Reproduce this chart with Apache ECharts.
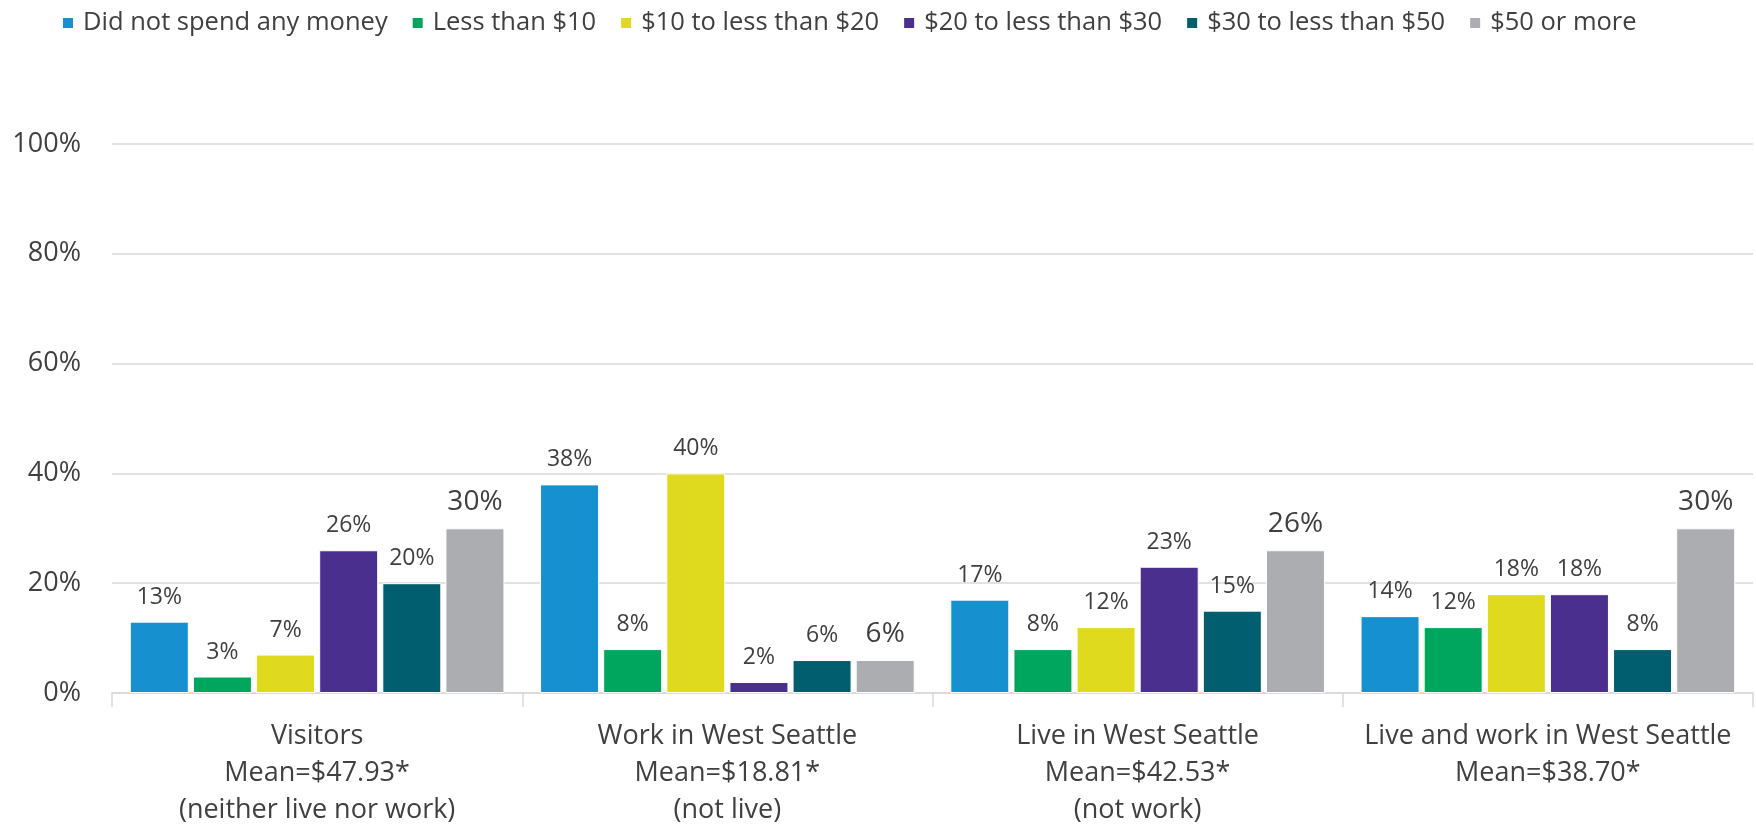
<!DOCTYPE html>
<html>
<head>
<meta charset="utf-8">
<script src="https://cdn.jsdelivr.net/npm/echarts@6/dist/echarts.min.js"></script>
<style>
  html, body { margin: 0; padding: 0; background: #fff; }
  #chart { width: 1756px; height: 829px; }
</style>
</head>
<body>
<div id="chart"></div>
<script>
const categories = [
  "Visitors\nMean=$47.93*\n(neither live nor work)",
  "Work in West Seattle\nMean=$18.81*\n(not live)",
  "Live in West Seattle\nMean=$42.53*\n(not work)",
  "Live and work in West Seattle\nMean=$38.70*"
];
const seriesNames = [
  "Did not spend any money",
  "Less than $10",
  "$10 to less than $20",
  "$20 to less than $30",
  "$30 to less than $50",
  "$50 or more"
];
const noMoney = [13, 38, 17, 14];
const under10 = [3, 8, 8, 12];
const from10to20 = [7, 40, 12, 18];
const from20to30 = [26, 2, 23, 18];
const from30to50 = [20, 6, 15, 8];
const over50 = [30, 6, 26, 30];
const yTicks = [0, 20, 40, 60, 80, 100];

const colors = ['#1790D0', '#00A65D', '#E0DA1E', '#4A2F8F', '#005E6E', '#ACADB0'];
const values = [noMoney, under10, from10to20, from20to30, from30to50, over50];
const font = '"Open Sans", Lato, sans-serif';

const chart = echarts.init(document.getElementById('chart'));

const series = values.map((data, i) => ({
  name: seriesNames[i],
  type: 'bar',
  data: data,
  barWidth: 59,
  barGap: '7%',
  itemStyle: { color: colors[i], borderColor: '#fff', borderWidth: 1 },
  label: {
    show: true,
    position: 'top',
    distance: i === 5 ? 12 : 13,
    formatter: '{c}%',
    color: '#404040',
    fontFamily: font,
    fontSize: i === 5 ? 28 : 23
  }
}));

chart.setOption({
  animation: false,
  color: colors,
  legend: {
    top: 5,
    left: 56,
    icon: 'rect',
    itemWidth: 12,
    itemHeight: 12,
    itemGap: 23,
    textStyle: {
      color: '#404040',
      fontFamily: font,
      fontSize: 25.5,
      padding: [0, 0, 0, 4]
    }
  },
  grid: { left: 112, right: 3, top: 144, bottom: 135, containLabel: false },
  xAxis: {
    type: 'category',
    data: categories,
    axisLine: { lineStyle: { color: '#D9D9D9', width: 1.5 } },
    axisTick: { show: true, length: 14, lineStyle: { color: '#D9D9D9', width: 1.5 } },
    axisLabel: {
      margin: 25,
      color: '#404040',
      fontFamily: font,
      fontSize: 27,
      lineHeight: 37,
      interval: 0
    }
  },
  yAxis: {
    type: 'value',
    min: yTicks[0],
    max: yTicks[yTicks.length - 1],
    interval: 20,
    axisLine: { show: false },
    axisTick: { show: false },
    axisLabel: {
      formatter: '{value}%',
      margin: 31,
      color: '#404040',
      fontFamily: font,
      fontSize: 27
    },
    splitLine: { lineStyle: { color: '#D9D9D9', width: 1.5 } }
  },
  series: series
});
</script>
</body>
</html>
